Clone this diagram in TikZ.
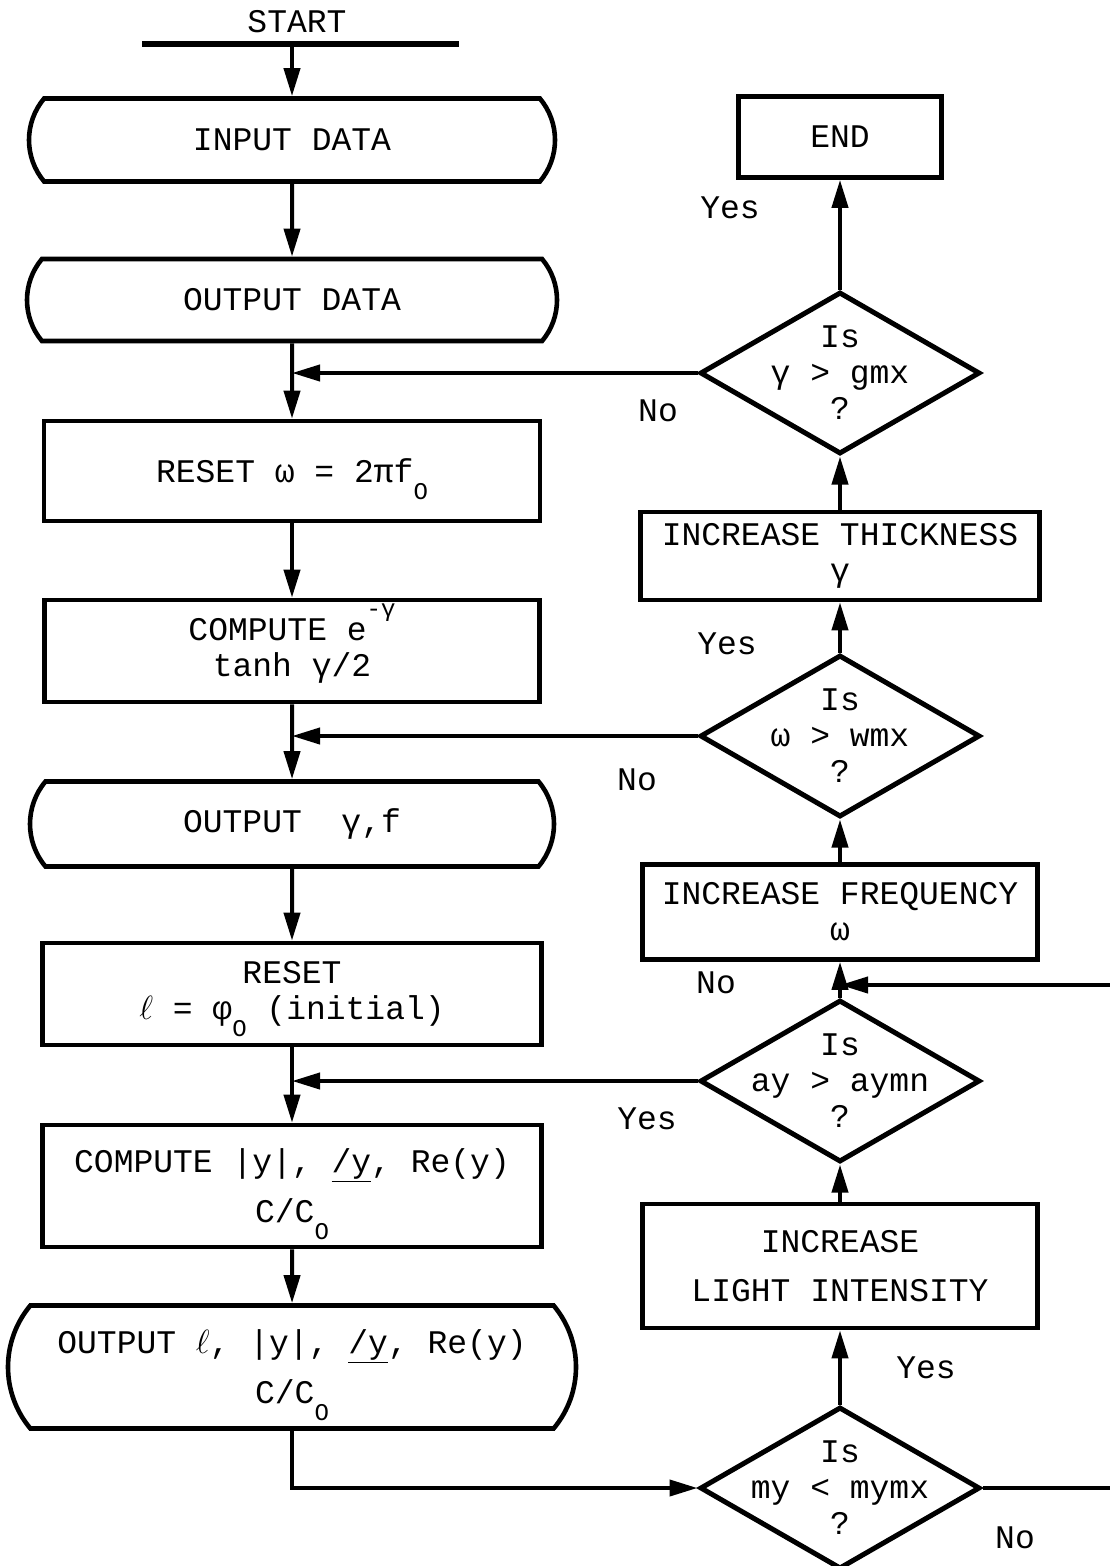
\documentclass[tikz,border=0pt]{standalone}
\usepackage{fontspec}
\setmainfont{Liberation Mono}
\usepackage{tikz}
\usetikzlibrary{shapes.geometric, shapes.misc, arrows.meta, positioning}
\newcommand{\lowo}{\smash{\raisebox{-17pt}{\fontsize{24}{24}\selectfont O}}}
\newcommand{\angy}{\underline{/y}}
\newcommand{\ellx}{\scalebox{1.35}{$\ell$}}

\begin{document}
\begin{tikzpicture}[x=1pt, y=-1pt,
    every node/.style={font=\fontsize{33}{36}\selectfont},
    terminal/.style={
        rounded rectangle, rounded rectangle arc length=80, draw,
        line width=4.6pt, inner sep=0pt, align=center
    },
    process/.style={
        rectangle, draw, line width=4.6pt, inner sep=0pt, align=center
    },
    decision/.style={
        diamond, draw, line width=5pt, inner sep=0pt,
        minimum width=280pt, minimum height=162pt
    },
    arrow/.style={-{Triangle[length=28pt, width=16pt]}, line width=4pt}
]
\useasboundingbox (0,0) rectangle (1109,1566);

% Start
\node (start) at (297,22) {START};
\node[fill, inner sep=0pt, minimum width=317pt, minimum height=5.5pt] (bar) at (300,44) {};

% Left column
\node[terminal, minimum width=526pt, minimum height=83pt] (inp) at (292,140) {INPUT DATA};
\node[terminal, minimum width=530pt, minimum height=82pt] (outd) at (292,300) {OUTPUT DATA};
\node[process, minimum width=496pt, minimum height=100pt] (resw) at (292,471) {RESET ω = 2πf\lowo};
\node[process, minimum width=495pt, minimum height=102pt] (expg) at (292,651)
    {COMPUTE e\smash{\raisebox{24pt}{\fontsize{24}{24}\selectfont -γ}}\\tanh γ/2};
\node[terminal, minimum width=524pt, minimum height=85pt] (outg) at (292,824) {OUTPUT~~γ,f};
\node[process, minimum width=499pt, minimum height=102pt] (resl) at (292,994)
    {RESET\\\ellx{} = φ\lowo{} (initial)};
\node[process, minimum width=499pt, minimum height=122pt] (compy) at (292,1186)
    {COMPUTE |y|, \angy, Re(y)\\[14pt]C/C\lowo};
\node[terminal, minimum width=568pt, minimum height=123pt] (outl) at (292,1367)
    {OUTPUT \ellx, |y|, \angy, Re(y)\\[14pt]C/C\lowo};

% Right column
\node[process, minimum width=203pt, minimum height=81pt] (end) at (840,137) {END};
\node[decision] (gmx) at (840,373) {};
\node[align=center] (gmxq) at (gmx) {Is\\γ > gmx\\?};
\node[process, minimum width=399pt, minimum height=88pt] (thick) at (840,556) {INCREASE THICKNESS\\γ};
\node[decision] (wmx) at (840,736) {};
\node[align=center] (wmxq) at (wmx) {Is\\ω > wmx\\?};
\node[process, minimum width=395pt, minimum height=95pt] (freq) at (840,912) {INCREASE FREQUENCY\\ω};
\coordinate (fjoin) at (840,985);
\node[decision] (aymn) at (840,1081) {};
\node[align=center] (aymnq) at (aymn) {Is\\ay > aymn\\?};
\node[process, minimum width=395pt, minimum height=124pt] (light) at (840,1266)
    {INCREASE\\[13pt]LIGHT INTENSITY};
\node[decision] (mymx) at (840,1488) {};
\node[align=center] (mymxq) at (mymx) {Is\\my < mymx\\?};

% Yes / No
\node (ygmx) at (730,208) {Yes};
\node (ngmx) at (658,411) {No};
\node (ywmx) at (727,644) {Yes};
\node (nwmx) at (637,780) {No};
\node (naymn) at (716,983) {No};
\node (yaymn) at (647,1119) {Yes};
\node (ymymx) at (926,1368) {Yes};
\node (nmymx) at (1015,1538) {No};

% Arrows, left
\draw[arrow] (bar.south -| inp.north) -- (inp.north);
\draw[arrow] (inp) -- (outd);
\draw[arrow] (outd) -- (resw);
\draw[arrow] (resw) -- (expg);
\draw[arrow] (expg) -- (outg);
\draw[arrow] (outg) -- (resl);
\draw[arrow] (resl) -- (compy);
\draw[arrow] (compy) -- (outl);
\draw[arrow] (outl.south) |- (mymx.west);

% Loops back
\draw[arrow] (gmx.west) -- (gmx.west -| outd.south);
\draw[arrow] (wmx.west) -- (wmx.west -| expg.south);
\draw[arrow] (aymn.west) -- (aymn.west -| resl.south);

% Arrows, right
\draw[arrow] (gmx) -- (end);
\draw[arrow] (thick) -- (gmx);
\draw[arrow] (wmx) -- (thick);
\draw[arrow] (freq) -- (wmx);
\draw[arrow] (aymn) -- (freq);
\draw[arrow] (light) -- (aymn);
\draw[arrow] (mymx) -- (light);
\draw[arrow] (mymx.east) -- ++(160,0) |- (fjoin);

\end{tikzpicture}
\end{document}
